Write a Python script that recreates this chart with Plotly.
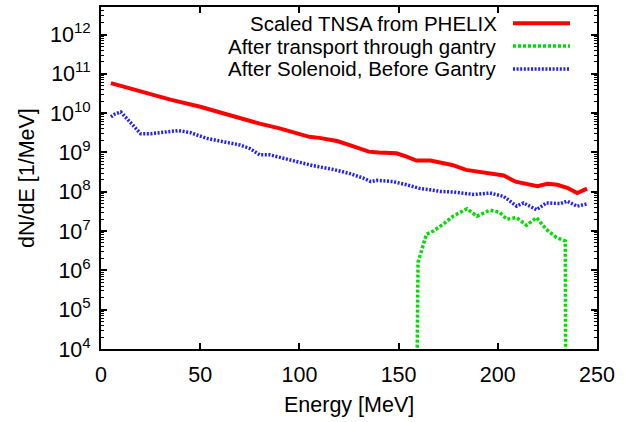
import plotly.graph_objects as go

# Proton energy spectra (dN/dE) vs energy
tnsa_energy = [5, 20, 35, 50, 65, 80, 90, 100, 105, 110, 119, 125, 130, 135, 140,
               149, 154, 159, 166, 171, 177, 184, 191, 203, 209, 215, 220, 225,
               230, 235, 240, 245]
tnsa_counts = [5.8e10, 3.5e10, 2.2e10, 1.45e10, 8.7e9, 5.4e9, 4.1e9, 3.0e9, 2.5e9,
               2.35e9, 1.95e9, 1.55e9, 1.26e9, 1.05e9, 1.0e9, 9.5e8, 7.8e8, 6.2e8,
               6.2e8, 5.5e8, 4.8e8, 3.6e8, 3.2e8, 2.6e8, 1.8e8, 1.6e8, 1.38e8,
               1.6e8, 1.5e8, 1.26e8, 9.3e7, 1.2e8]

gantry_energy = [159, 159.8, 164, 167.5, 172.5, 177.5, 184.5, 189.5, 196, 201, 204.5,
                 209.5, 214.5, 219.5, 224.5, 229.5, 234, 234.3]
gantry_counts = [100, 1.6e6, 8.3e6, 1.0e7, 1.5e7, 2.4e7, 3.7e7, 2.4e7, 3.4e7, 3.0e7,
                 2.0e7, 2.2e7, 1.4e7, 2.2e7, 1.1e7, 6.9e6, 5.6e6, 100]

solenoid_energy = [5, 7, 10, 15, 20, 25, 33, 39, 45, 53, 62, 70, 75, 80, 85, 95, 102,
                   107, 117, 125, 132, 136, 139, 147, 154, 161, 166, 171, 178, 188,
                   196, 203, 209.5, 213, 219.5, 224.5, 231.5, 235, 240, 245]
solenoid_counts = [8.0e9, 9.5e9, 1.07e10, 5.5e9, 3.0e9, 3.0e9, 3.3e9, 3.6e9, 3.2e9,
                   2.3e9, 1.86e9, 1.55e9, 1.26e9, 8.7e8, 8.7e8, 6.5e8, 5.1e8, 4.6e8,
                   3.7e8, 2.95e8, 2.24e8, 1.82e8, 1.95e8, 1.82e8, 1.51e8, 1.2e8,
                   1.12e8, 1.02e8, 9.8e7, 8.5e7, 9.3e7, 7.6e7, 4.3e7, 5.2e7, 3.5e7,
                   5.2e7, 5.0e7, 5.75e7, 4.3e7, 4.9e7]

series_names = ["Scaled TNSA from PHELIX",
                "After transport through gantry",
                "After Solenoid, Before Gantry"]

x_ticks = [0, 50, 100, 150, 200, 250]
y_exponents = [4, 5, 6, 7, 8, 9, 10, 11, 12]

RED = "#ff0000"
GREEN = "#00dd00"
BLUE = "#1f1fff"
styles = [
    dict(color=RED, width=4, dash="solid"),
    dict(color=GREEN, width=3.5, dash="3px,2px"),
    dict(color=BLUE, width=3.5, dash="2px,1.6px"),
]

FONT = "Liberation Sans, Arial, sans-serif"
FS = 21.5
KEY_FS = 20.5

axis_common = dict(
    showline=True, linecolor="black", linewidth=2, mirror="allticks",
    ticks="inside", tickcolor="black", tickwidth=1.5, ticklen=6,
    showgrid=False, zeroline=False,
    tickfont=dict(family=FONT, size=FS, color="black"),
)

fig = go.Figure()
fig.add_trace(go.Scatter(x=tnsa_energy, y=tnsa_counts, mode="lines",
                         line=styles[0], name=series_names[0]))
fig.add_trace(go.Scatter(x=gantry_energy, y=gantry_counts, mode="lines",
                         line=styles[1], name=series_names[1]))
fig.add_trace(go.Scatter(x=solenoid_energy, y=solenoid_counts, mode="lines",
                         line=styles[2], name=series_names[2]))

fig.update_xaxes(range=[0, 250], tickvals=x_ticks,
                 ticktext=[str(v) for v in x_ticks],
                 ticklabelstandoff=5, **axis_common)
fig.update_yaxes(type="log", range=[4, 12.7],
                 tickvals=[10 ** e for e in y_exponents],
                 ticktext=[f"10<sup>{e}</sup>" for e in y_exponents],
                 minor=dict(ticks="inside", dtick="D1", ticklen=3,
                            tickcolor="black", tickwidth=1),
                 ticklabelstandoff=4, **axis_common)

annotations = [
    dict(text="Energy [MeV]", xref="paper", yref="paper", x=0.5, y=0,
         yshift=-56, xanchor="center", yanchor="middle", showarrow=False,
         font=dict(family=FONT, size=FS, color="black")),
    dict(text="dN/dE [1/MeV]", xref="paper", yref="paper", x=0, y=0.5,
         xshift=-74, xanchor="center", yanchor="middle", textangle=-90,
         showarrow=False, font=dict(family=FONT, size=FS, color="black")),
]

# Key: right-aligned labels with a line sample to their right
plot_left, plot_right, plot_top, plot_bottom = 101, 597, 5, 349
pw = plot_right - plot_left
ph = plot_bottom - plot_top
shapes = []
rows_y = [21.3, 44.3, 67.3]
for name, style, ry in zip(series_names, styles, rows_y):
    yp = (plot_bottom - ry) / ph
    annotations.append(dict(
        text=name, xref="paper", yref="paper",
        x=(498 - plot_left) / pw, y=yp, xanchor="right", yanchor="middle",
        borderpad=0, showarrow=False,
        font=dict(family=FONT, size=KEY_FS, color="black")))
    shapes.append(dict(
        type="line", xref="paper", yref="paper",
        x0=(513 - plot_left) / pw, x1=(570 - plot_left) / pw, y0=yp, y1=yp,
        line=dict(color=style["color"], width=style["width"], dash=style["dash"])))

fig.update_layout(
    width=639, height=422,
    margin=dict(l=plot_left, r=639 - plot_right, t=plot_top, b=422 - plot_bottom),
    plot_bgcolor="white", paper_bgcolor="white",
    showlegend=False,
    annotations=annotations, shapes=shapes,
    font=dict(family=FONT, size=FS, color="black"),
)

fig.write_html("out.html")
